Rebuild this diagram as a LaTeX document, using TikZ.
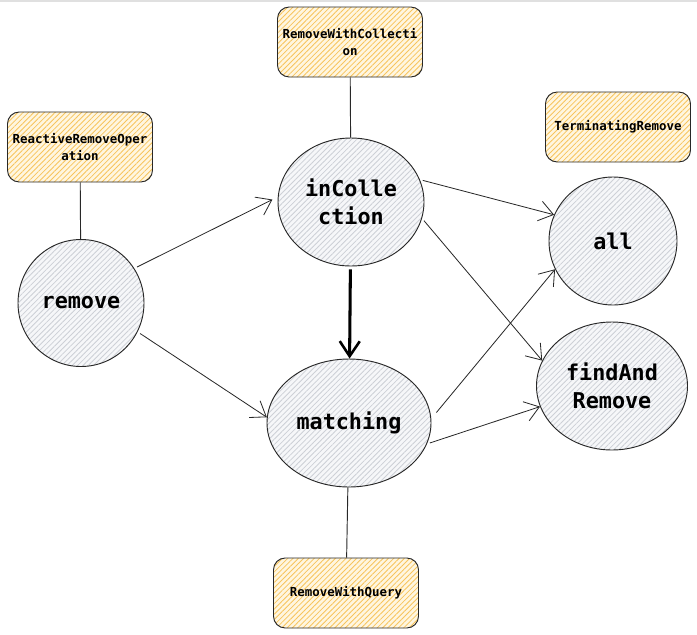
\documentclass[tikz,border=0pt]{standalone}
\usepackage{fontspec}
\setmonofont{DejaVu Sans Mono}
\usetikzlibrary{arrows.meta,shapes.geometric,patterns.meta}
\definecolor{boxO}{RGB}{247,196,92}
\definecolor{boxBg}{RGB}{255,246,224}
\definecolor{nodeG}{RGB}{205,208,214}
\definecolor{nodeBg}{RGB}{246,247,249}
\definecolor{inkD}{RGB}{40,40,40}
\newdimen\pxu \pxu=0.03cm
\tikzset{
  opnode/.style={ellipse,draw=inkD,line width=0.8pt,inner sep=0pt,
    preaction={fill=nodeBg},
    pattern={Lines[angle=45,distance=3.2pt,line width=0.7pt]},pattern color=nodeG,
    font=\ttfamily\bfseries\fontsize{18.6}{24}\selectfont,align=center},
  notebox/.style={rectangle,rounded corners=10pt,draw=inkD,line width=0.8pt,
    minimum width=145\pxu,minimum height=70\pxu,inner sep=0pt,
    preaction={fill=boxBg},
    pattern={Lines[angle=45,distance=3.2pt,line width=0.7pt]},pattern color=boxO,
    font=\ttfamily\bfseries\fontsize{10.6}{15}\selectfont,align=center},
  link/.style={draw=inkD,line width=0.7pt,shorten <=3\pxu,
    -{Straight Barb[length=4.2mm,width=6mm,line width=0.7pt]}},
  tie/.style={draw=inkD,line width=0.8pt}
}
\begin{document}
\begin{tikzpicture}[x=\pxu,y=-\pxu]
\useasboundingbox (0,0) rectangle (697,634);
\draw[black!12,line width=1pt] (0,1)--(697,1);
% operations
\node[opnode,minimum width=126\pxu,minimum height=127\pxu] (remove) at (81,303) {remove};
\node[opnode,minimum width=146\pxu,minimum height=128\pxu] (incoll) at (351,202) {inColle\\ction};
\node[opnode,minimum width=164\pxu,minimum height=128\pxu] (matching) at (349,423) {matching};
\node[opnode,minimum width=128\pxu,minimum height=128\pxu] (all) at (613,241) {all};
\node[opnode,minimum width=151\pxu,minimum height=128\pxu] (findrm) at (612,386) {findAnd\\Remove};
% interfaces
\node[notebox] (reactbox) at (80,147) {ReactiveRemoveOper\\ation};
\node[notebox] (collbox) at (350,42) {RemoveWithCollecti\\on};
\node[notebox] (termbox) at (618,127) {TerminatingRemove};
\node[notebox] (querybox) at (346,593) {RemoveWithQuery};
\draw[tie] (reactbox) -- (remove);
\draw[tie] (collbox) -- (incoll);
\draw[tie] (matching) -- (querybox);
% flow
\draw[link,shorten >=6\pxu] (remove.33) -- (incoll.176);
\draw[link] (remove.-27) -- (matching.176);
\draw[draw=black,line width=2.6pt,shorten <=3\pxu,-{Straight Barb[length=4.5mm,width=6mm,line width=2.2pt]}] (incoll) -- (matching);
\draw[link] (incoll.18) -- (all.156);
\draw[link] (incoll.-13) -- (findrm.160);
\draw[link,shorten <=8\pxu] (matching.3) -- (all.206);
\draw[link] (matching.-15) -- (findrm.196);
\end{tikzpicture}
\end{document}
